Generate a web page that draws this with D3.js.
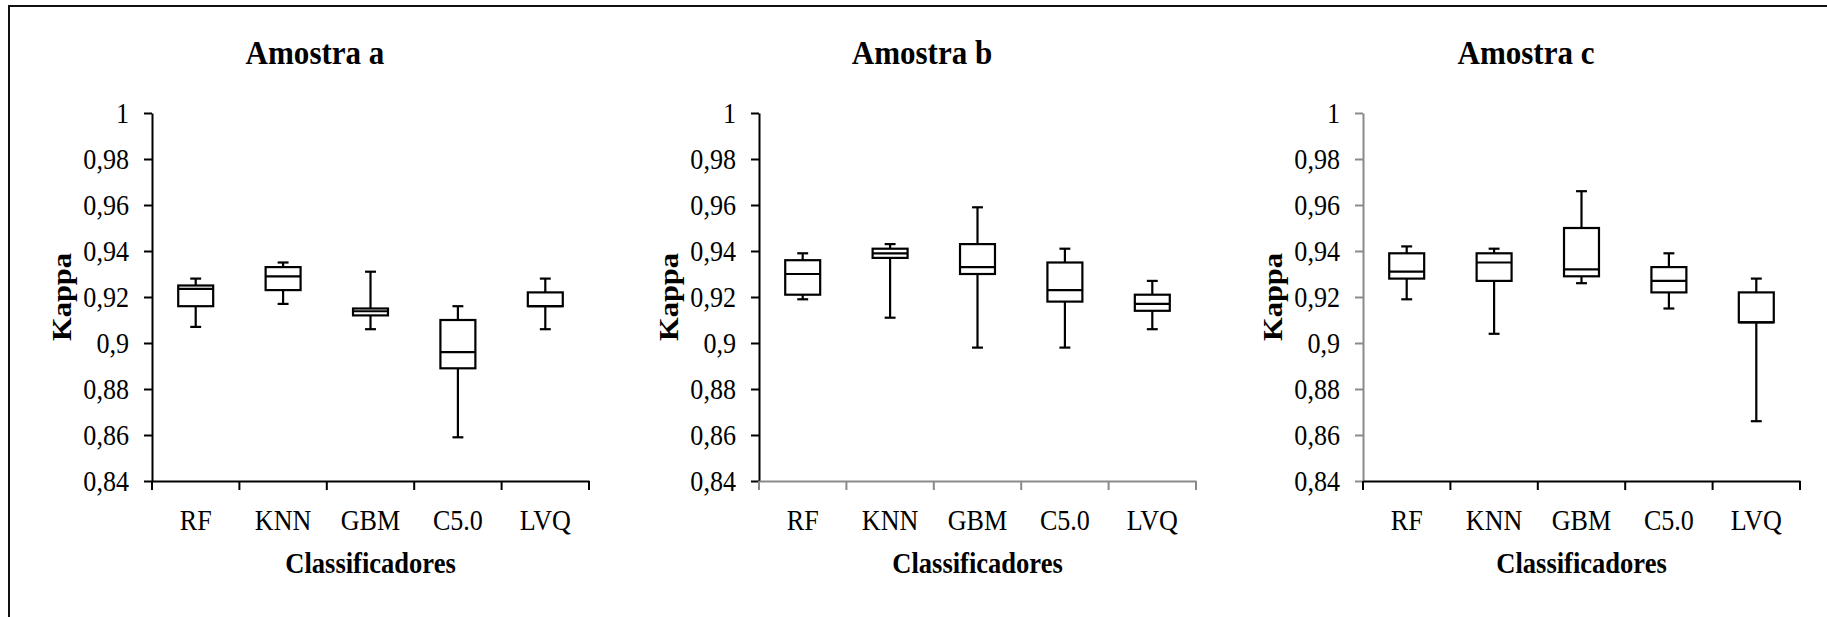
<!DOCTYPE html>
<html>
<head>
<meta charset="utf-8">
<script src="https://cdn.jsdelivr.net/npm/d3@7"></script>
<style>
  body { margin: 0; background: #fff; }
  svg { display: block; }
  text { font-family: "Liberation Serif", "Times New Roman", serif; fill: #000; }
</style>
</head>
<body>
<div id="chart"></div>
<script>
// Kappa box plots per classifier, one panel per sample

var classifiers = ["RF", "KNN", "GBM", "C5.0", "LVQ"];
var samples = ["Amostra a", "Amostra b", "Amostra c"];

// [min, q1, median, q3, max] per classifier
var kappaA = [
  [0.907, 0.916, 0.9235, 0.925, 0.928],
  [0.917, 0.923, 0.929, 0.933, 0.935],
  [0.906, 0.912, 0.9138, 0.915, 0.931],
  [0.859, 0.889, 0.896, 0.910, 0.916],
  [0.906, 0.916, 0.916, 0.922, 0.928]
];
var kappaB = [
  [0.919, 0.921, 0.930, 0.936, 0.939],
  [0.911, 0.937, 0.939, 0.941, 0.943],
  [0.898, 0.930, 0.933, 0.943, 0.959],
  [0.898, 0.918, 0.923, 0.935, 0.941],
  [0.906, 0.914, 0.917, 0.921, 0.927]
];
var kappaC = [
  [0.919, 0.928, 0.931, 0.939, 0.942],
  [0.904, 0.927, 0.935, 0.939, 0.941],
  [0.926, 0.929, 0.932, 0.950, 0.966],
  [0.915, 0.922, 0.927, 0.933, 0.939],
  [0.866, 0.909, 0.909, 0.922, 0.928]
];
var kappaDomain = [0.84, 1];

var W = 1827, H = 617;
var panelLeft = [152, 759, 1363];
var plotW = 437, plotTop = 113, plotBottom = 481;
var axisColors = [
  {y: "#000", x: "#000"},
  {y: "#000", x: "#8a8a8a"},
  {y: "#8a8a8a", x: "#000"}
];
var squeeze = 0.9; // text is set a bit narrow

var locale = d3.formatLocale({decimal: ",", thousands: ".", grouping: [3], currency: ["", ""]});
var fmt = locale.format("~g");

var svg = d3.select("#chart").append("svg")
  .attr("width", W)
  .attr("height", H);

// outer frame (only top and left edges fall inside the page)
svg.append("path")
  .attr("d", "M9," + H + "V6H" + W)
  .attr("fill", "none")
  .attr("stroke", "#111")
  .attr("stroke-width", 2);

var y = d3.scaleLinear().domain(kappaDomain).range([plotBottom, plotTop]);

var panelData = [kappaA, kappaB, kappaC];

panelData.forEach(function(rows, p) {
  var g = svg.append("g").attr("transform", "translate(" + panelLeft[p] + ",0)");
  var x = d3.scaleBand().domain(classifiers).range([0, plotW]);

  //Y AXIS
  var yAxis = g.append("g")
    .call(d3.axisLeft(y).ticks(8).tickSize(8).tickSizeOuter(0).tickFormat(fmt));
  yAxis.select(".domain").attr("stroke", axisColors[p].y).attr("stroke-width", 2);
  yAxis.selectAll(".tick line").attr("stroke", axisColors[p].y).attr("stroke-width", 2);
  yAxis.selectAll(".tick text")
    .attr("x", null)
    .attr("transform", "translate(-23,0) scale(" + squeeze + ",1)")
    .style("font-size", "29px")
    .style("font-family", "'Liberation Serif', 'Times New Roman', serif")
    .attr("fill", "#000");

  //X AXIS
  var xAxis = g.append("g")
    .attr("transform", "translate(0," + plotBottom + ")")
    .call(d3.axisBottom(x).tickSize(0).tickSizeOuter(0));
  xAxis.select(".domain").attr("stroke", axisColors[p].x).attr("stroke-width", 2);
  xAxis.selectAll(".tick text")
    .attr("y", null)
    .attr("dy", null)
    .attr("transform", "translate(0,49) scale(" + squeeze + ",1)")
    .style("font-size", "29px")
    .style("font-family", "'Liberation Serif', 'Times New Roman', serif")
    .attr("fill", "#000");

  // category separators sit on the band edges
  xAxis.selectAll(".edge")
    .data(d3.range(classifiers.length + 1))
    .join("line")
    .attr("class", "edge")
    .attr("x1", d => d * x.step())
    .attr("x2", d => d * x.step())
    .attr("y1", 0)
    .attr("y2", 9)
    .attr("stroke", axisColors[p].x)
    .attr("stroke-width", 2);

  //BOXES
  var boxW = x.bandwidth() * 0.4;
  var capW = x.bandwidth() * 0.125;

  var boxes = g.selectAll(".box")
    .data(rows.map((r, i) => ({name: classifiers[i], min: r[0], q1: r[1], med: r[2], q3: r[3], max: r[4]})))
    .join("g")
    .attr("class", "box")
    .attr("transform", d => "translate(" + (x(d.name) + x.bandwidth() / 2) + ",0)");

  boxes.append("line")
    .attr("y1", d => y(d.min))
    .attr("y2", d => y(d.max))
    .attr("stroke", "#000")
    .attr("stroke-width", 2.2);

  boxes.selectAll(".cap")
    .data(d => [d.min, d.max])
    .join("line")
    .attr("class", "cap")
    .attr("x1", -capW / 2)
    .attr("x2", capW / 2)
    .attr("y1", v => y(v))
    .attr("y2", v => y(v))
    .attr("stroke", "#000")
    .attr("stroke-width", 2.2);

  boxes.append("rect")
    .attr("x", -boxW / 2)
    .attr("width", boxW)
    .attr("y", d => y(d.q3))
    .attr("height", d => y(d.q1) - y(d.q3))
    .attr("fill", "#fff")
    .attr("stroke", "#000")
    .attr("stroke-width", 2.2);

  boxes.append("line")
    .attr("x1", -boxW / 2)
    .attr("x2", boxW / 2)
    .attr("y1", d => y(d.med))
    .attr("y2", d => y(d.med))
    .attr("stroke", "#000")
    .attr("stroke-width", 2.2);

  //LABELS
  g.append("text")
    .attr("transform", "translate(163,64) scale(" + squeeze + ",1)")
    .attr("text-anchor", "middle")
    .style("font-size", "34.5px")
    .style("font-weight", "bold")
    .text(samples[p]);

  g.append("text")
    .attr("transform", "translate(-81," + ((plotTop + plotBottom) / 2) + ") scale(" + squeeze + ",1) rotate(-90)")
    .attr("text-anchor", "middle")
    .style("font-size", "30.5px")
    .style("font-weight", "bold")
    .text("Kappa");

  g.append("text")
    .attr("transform", "translate(" + (plotW / 2) + ",573) scale(" + squeeze + ",1)")
    .attr("text-anchor", "middle")
    .style("font-size", "29.5px")
    .style("font-weight", "bold")
    .text("Classificadores");
});
</script>
</body>
</html>
